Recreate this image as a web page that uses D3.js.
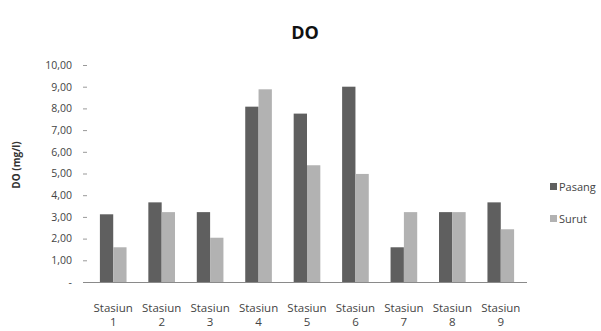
<!DOCTYPE html>
<html>
<head>
<meta charset="utf-8">
<script src="https://cdn.jsdelivr.net/npm/d3@7"></script>
<style>
  html, body { margin: 0; padding: 0; background: #fff; }
  svg { display: block; }
  text { font-family: "Open Sans", "Liberation Sans", sans-serif; }
</style>
</head>
<body>
<svg id="chart" width="601" height="331"></svg>
<script>
// Dissolved oxygen per station, at high tide (Pasang) and low tide (Surut)
const stations = ["1", "2", "3", "4", "5", "6", "7", "8", "9"];
const pasang = [3.12, 3.67, 3.22, 8.08, 7.76, 9.00, 1.60, 3.22, 3.67];
const surut  = [1.60, 3.22, 2.04, 8.88, 5.38, 4.98, 3.22, 3.22, 2.43];
const seriesNames = ["Pasang", "Surut"];
const seriesColors = ["#5f5f5f", "#b2b2b2"];
const yTicks = [0, 1, 2, 3, 4, 5, 6, 7, 8, 9, 10];
const yTickLabels = ["-", "1,00", "2,00", "3,00", "4,00", "5,00", "6,00", "7,00", "8,00", "9,00", "10,00"];

const svg = d3.select("#chart");

const y = d3.scaleLinear().domain([0, 10]).range([282, 65]);
const x = d3.scaleBand().domain(stations).range([89, 525]).padding(0);
const x1 = d3.scaleBand().domain(seriesNames)
  .range([x.bandwidth() * 0.225, x.bandwidth() * 0.775]).padding(0);

const rows = stations.map((s, i) => ({ station: s, values: [pasang[i], surut[i]] }));

// Title
svg.append("text")
  .attr("x", 305).attr("y", 39)
  .attr("text-anchor", "middle")
  .attr("font-size", 18).attr("font-weight", "bold")
  .attr("fill", "#111")
  .text("DO");

// Y axis label
svg.append("text")
  .attr("transform", "translate(20,165) rotate(-90)")
  .attr("text-anchor", "middle")
  .attr("font-size", 10).attr("font-weight", "bold")
  .attr("fill", "#333")
  .text("DO (mg/l)");

// Y axis: tick labels and short outside tick marks, no axis line
const yAxis = d3.axisLeft(y)
  .tickValues(yTicks)
  .tickFormat((d, i) => yTickLabels[i])
  .tickSize(4)
  .tickPadding(11);
const yG = svg.append("g").attr("transform", "translate(87,0)").call(yAxis);
yG.select(".domain").remove();
yG.selectAll(".tick line").attr("stroke", "#999");
yG.selectAll(".tick text").attr("font-size", 10.5).attr("fill", "#444")
  .attr("font-family", "'Open Sans', 'Liberation Sans', sans-serif");

// Bars
const groups = svg.append("g").selectAll("g")
  .data(rows).join("g")
  .attr("transform", d => `translate(${x(d.station)},0)`);

groups.selectAll("rect")
  .data(d => d.values.map((v, k) => ({ key: seriesNames[k], value: v, k })))
  .join("rect")
  .attr("x", d => x1(d.key))
  .attr("width", x1.bandwidth())
  .attr("y", d => y(d.value))
  .attr("height", d => y(0) - y(d.value))
  .attr("fill", d => seriesColors[d.k]);

// Category axis line
svg.append("line")
  .attr("x1", 83).attr("x2", 527)
  .attr("y1", y(0) + 0.5).attr("y2", y(0) + 0.5)
  .attr("stroke", "#8a8a8a").attr("stroke-width", 1);

// Category labels on two lines
const xl = svg.append("g").selectAll("text")
  .data(stations).join("text")
  .attr("x", d => x(d) + x.bandwidth() / 2)
  .attr("text-anchor", "middle")
  .attr("font-size", 11.5).attr("fill", "#444");
xl.append("tspan").attr("x", d => x(d) + x.bandwidth() / 2).attr("y", 312).text("Stasiun");
xl.append("tspan").attr("x", d => x(d) + x.bandwidth() / 2).attr("y", 326).text(d => d);

// Legend
const legend = svg.append("g").selectAll("g")
  .data(seriesNames).join("g")
  .attr("transform", (d, i) => `translate(550,${183 + i * 32})`);
legend.append("rect").attr("width", 7).attr("height", 7)
  .attr("fill", (d, i) => seriesColors[i]);
legend.append("text").attr("x", 9).attr("y", 7.5)
  .attr("font-size", 11).attr("fill", "#444")
  .text(d => d);
</script>
</body>
</html>
